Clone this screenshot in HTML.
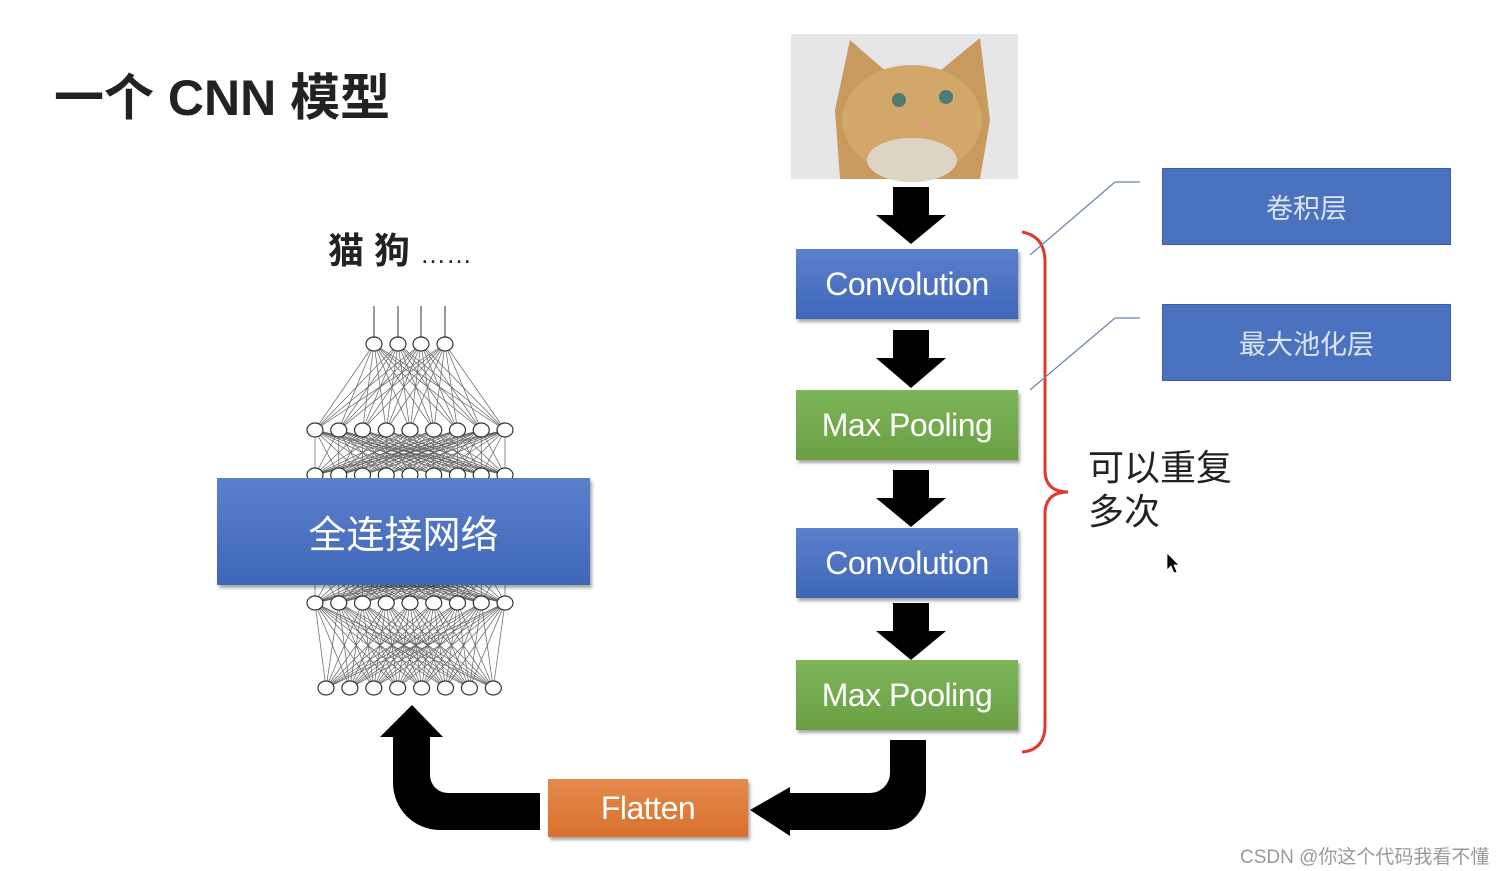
<!DOCTYPE html>
<html><head><meta charset="utf-8"><style>
html,body{margin:0;padding:0;background:#fff;width:1507px;height:871px;overflow:hidden;position:relative;font-family:"Liberation Sans","Noto Sans CJK SC",sans-serif}
.abs{position:absolute}
.box{position:absolute;color:#fff;display:flex;align-items:center;justify-content:center;box-shadow:2px 3px 3px rgba(0,0,0,.35)}
.blue{background:linear-gradient(#5b80cc,#3f66b8)}
.green{background:linear-gradient(#7fb55a,#6aa043)}
.orange{background:linear-gradient(#e58a4c,#d9712e)}
.flat{background:#4a72bf;box-shadow:none;border:1px solid #3c5fa5}
.nar{letter-spacing:-0.5px}
</style></head><body>
<div class="abs" style="left:54px;top:58px;font-size:50px;color:#222;font-weight:600">一个 CNN 模型</div>
<div class="abs" style="left:328px;top:222px;font-size:36px;color:#222;font-weight:bold">猫 狗 <span style="font-size:26px;font-weight:normal">……</span></div>

<svg class="abs" style="left:0;top:0" width="1507" height="871" id="net">
<g id="lines" stroke="#444" stroke-width="0.7" opacity="0.85"></g>
<g id="nodes" fill="#fff" stroke="#333" stroke-width="1.2"></g>
<g stroke="#333" stroke-width="1" fill="#333">
<line x1="374" y1="306" x2="374" y2="338"/><line x1="398" y1="306" x2="398" y2="338"/><line x1="421" y1="306" x2="421" y2="338"/><line x1="445" y1="306" x2="445" y2="338"/>
</g>
<g fill="#000">
<polygon points="893,187 929,187 929,215 946,215 911,244 876,215 893,215"/>
<polygon points="893,330 929,330 929,358 946,358 911,388 876,358 893,358"/>
<polygon points="893,470 929,470 929,498 946,498 911,527 876,498 893,498"/>
<polygon points="893,603 929,603 929,631 946,631 911,660 876,631 893,631"/>
<path d="M890,740 H926 V790 A40,40 0 0 1 886,830 H790 V836 L750,810 L790,787 V793 H870 A20,20 0 0 0 890,773 Z"/>
<path d="M540,793 V830 H440 A47,47 0 0 1 393,783 V737 H380 L412,705 L443,737 H430 V775 A18,18 0 0 0 448,793 Z"/>
</g>
<path d="M1022,232 Q1045,236 1045,262 V470 Q1045,492 1068,492 Q1045,492 1045,514 V725 Q1045,750 1022,752" fill="none" stroke="#e03a2e" stroke-width="3"/>
<polyline points="1030,255 1115,182 1140,182" fill="none" stroke="#6a82a8" stroke-width="1.2"/>
<polyline points="1030,390 1115,318 1140,318" fill="none" stroke="#6a82a8" stroke-width="1.2"/>
<polygon points="1167,553 1167,570 1171,566 1174,573 1177,572 1174,565 1179,565" fill="#000" stroke="#fff" stroke-width="0.8"/>
<rect x="791" y="34" width="227" height="145" fill="#e6e6e8"/>
<polygon points="850,40 890,75 935,75 980,38 990,120 980,179 840,179 835,110" fill="#c99a5e"/>
<ellipse cx="912" cy="120" rx="70" ry="55" fill="#d3a66a"/>
<ellipse cx="912" cy="160" rx="45" ry="22" fill="#dcd4c4"/>
<circle cx="899" cy="100" r="7" fill="#4e7a74"/><circle cx="946" cy="97" r="7" fill="#4e7a74"/>
<path d="M920,122 L930,122 L925,130 Z" fill="#e3958e"/>
</svg>

<div class="box blue" style="left:217px;top:478px;width:373px;height:107px;font-size:38px">全连接网络</div>
<div class="box blue nar" style="left:796px;top:249px;width:222px;height:70px;font-size:32px">Convolution</div>
<div class="box green nar" style="left:796px;top:390px;width:222px;height:70px;font-size:32px">Max Pooling</div>
<div class="box blue nar" style="left:796px;top:528px;width:222px;height:70px;font-size:32px">Convolution</div>
<div class="box green nar" style="left:796px;top:660px;width:222px;height:70px;font-size:32px">Max Pooling</div>
<div class="box orange nar" style="left:548px;top:779px;width:200px;height:58px;font-size:32px">Flatten</div>
<div class="box flat" style="left:1162px;top:168px;width:287px;height:75px;font-size:27px;color:#dde5f5">卷积层</div>
<div class="box flat" style="left:1162px;top:304px;width:287px;height:75px;font-size:27px;color:#dde5f5">最大池化层</div>
<div class="abs" style="left:1088px;top:446px;font-size:36px;line-height:44px;color:#222">可以重复<br>多次</div>
<div class="abs" style="left:1240px;top:842px;font-size:19px;color:#999">CSDN @你这个代码我看不懂</div>
<script>
var L=[
 {y:344,xs:[374,398,421,445]},
 {y:430,xs:[]},{y:475,xs:[]},{y:560,xs:[]},{y:603,xs:[]},
 {y:688,xs:[]}];
for(var i=0;i<9;i++){var x=315+i*23.75;L[1].xs.push(x);L[2].xs.push(x);L[3].xs.push(x);L[4].xs.push(x);}
for(var i=0;i<8;i++)L[5].xs.push(326+i*23.9);
var lg=document.getElementById('lines'),ng=document.getElementById('nodes'),s='',t='';
for(var k=0;k<L.length-1;k++){var a=L[k],b=L[k+1];
 a.xs.forEach(function(x1){b.xs.forEach(function(x2){s+='<line x1="'+x1+'" y1="'+a.y+'" x2="'+x2+'" y2="'+b.y+'"/>';});});}
lg.innerHTML=s;
L.forEach(function(l){l.xs.forEach(function(x){t+='<ellipse cx="'+x+'" cy="'+l.y+'" rx="8" ry="7"/>';});});
ng.innerHTML=t;
</script>
</body></html>
